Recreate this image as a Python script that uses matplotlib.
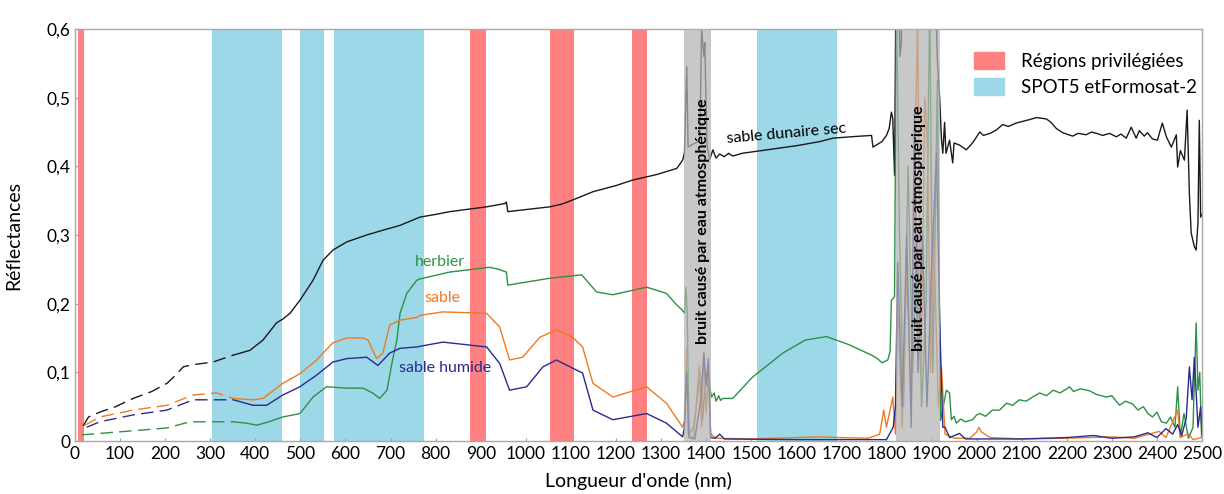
import numpy as np
import matplotlib
matplotlib.use('Agg')
from matplotlib import pyplot as plt
from matplotlib.patches import Patch
from matplotlib.ticker import FuncFormatter

plt.rcParams['font.family'] = ['Lato', 'DejaVu Sans']

# ---- data ----
wl_sec = [18, 30, 55, 90, 129, 170, 204, 225, 240, 260, 306, 351, 388, 417, 447, 462, 477,
          499, 528, 550, 572, 603, 647, 683, 721, 758, 765, 800, 831, 913, 955, 957, 960,
          1000, 1053, 1080, 1104, 1149, 1200, 1237, 1290, 1335, 1348, 1352, 1357, 1360,
          1370, 1380, 1386, 1390, 1395, 1397, 1402, 1408, 1415, 1422, 1430, 1440, 1450, 1459,
          1480, 1534, 1600, 1652, 1681, 1720, 1767, 1770, 1780, 1790, 1800, 1806, 1811,
          1814, 1818, 1822, 1826, 1830, 1833, 1836, 1850, 1870, 1890, 1905, 1913, 1918,
          1922, 1925, 1929, 1932, 1940, 1947, 1950, 1962, 1977, 1991, 2007, 2015, 2030,
          2044, 2058, 2070, 2088, 2100, 2117, 2133, 2155, 2165, 2177, 2191, 2213, 2225,
          2243, 2255, 2266, 2280, 2295, 2310, 2320, 2332, 2343, 2354, 2361, 2372, 2379,
          2390, 2401, 2412, 2421, 2432, 2443, 2446, 2452, 2461, 2467, 2472, 2476, 2483,
          2487, 2491, 2494, 2497, 2500]
r_sec = [0.022, 0.035, 0.042, 0.050, 0.062, 0.072, 0.084, 0.097, 0.108, 0.111, 0.115, 0.125,
         0.132, 0.147, 0.172, 0.178, 0.186, 0.205, 0.234, 0.263, 0.278, 0.290, 0.300, 0.307,
         0.314, 0.324, 0.326, 0.330, 0.334, 0.341, 0.346, 0.348, 0.334, 0.337, 0.341, 0.345,
         0.351, 0.363, 0.372, 0.380, 0.388, 0.397, 0.409, 0.420, 0.545, 0.428, 0.432, 0.435,
         0.440, 0.598, 0.560, 0.580, 0.430, 0.410, 0.424, 0.412, 0.418, 0.414, 0.419, 0.415,
         0.419, 0.424, 0.430, 0.436, 0.441, 0.443, 0.445, 0.428, 0.432, 0.436, 0.445, 0.455,
         0.479, 0.470, 0.387, 0.750, 0.700, 0.560, 0.580, 0.700, 0.800, 0.800, 0.800, 0.750,
         0.555, 0.500, 0.440, 0.419, 0.464, 0.419, 0.438, 0.405, 0.434, 0.431, 0.424, 0.434,
         0.450, 0.445, 0.448, 0.453, 0.461, 0.458, 0.463, 0.465, 0.468, 0.471, 0.469, 0.464,
         0.455, 0.449, 0.444, 0.448, 0.446, 0.450, 0.448, 0.445, 0.448, 0.443, 0.447, 0.441,
         0.457, 0.441, 0.452, 0.444, 0.449, 0.440, 0.438, 0.463, 0.443, 0.428, 0.446, 0.399,
         0.423, 0.409, 0.482, 0.360, 0.303, 0.283, 0.278, 0.317, 0.467, 0.326, 0.330]

wl_herb = [15, 55, 130, 204, 255, 351, 380, 403, 430, 461, 499, 528, 558, 603, 639, 660, 676,
           692, 705, 714, 721, 736, 758, 765, 831, 920, 940, 957, 960, 1053, 1124, 1157, 1193,
           1268, 1312, 1335, 1348, 1352, 1355, 1358, 1362, 1372, 1380, 1386, 1392, 1398, 1401,
           1408, 1412, 1418, 1422, 1428, 1432, 1437, 1459, 1503, 1570, 1620, 1667, 1718, 1767,
           1780, 1790, 1803, 1808, 1811, 1818, 1822, 1829, 1838, 1848, 1858, 1868, 1878, 1888,
           1896, 1903, 1913, 1920, 1933, 1940, 1944, 1950, 1955, 1965, 1975, 1991, 2000, 2007,
           2020, 2035, 2051, 2066, 2080, 2095, 2110, 2124, 2140, 2155, 2170, 2185, 2200, 2206,
           2215, 2230, 2251, 2265, 2288, 2300, 2317, 2330, 2346, 2358, 2370, 2380, 2390, 2400,
           2410, 2421, 2430, 2440, 2446, 2452, 2460, 2470, 2480, 2487, 2491, 2495, 2499]
r_herb = [0.009, 0.011, 0.015, 0.019, 0.028, 0.028, 0.026, 0.023, 0.028, 0.035, 0.040, 0.064,
          0.079, 0.077, 0.077, 0.070, 0.062, 0.074, 0.120, 0.147, 0.186, 0.215, 0.234, 0.236,
          0.246, 0.253, 0.250, 0.246, 0.227, 0.237, 0.242, 0.217, 0.213, 0.224, 0.215, 0.198,
          0.190, 0.186, 0.224, 0.190, 0.010, 0.020, 0.060, 0.100, 0.030, 0.080, 0.100, 0.079,
          0.064, 0.070, 0.058, 0.066, 0.059, 0.062, 0.062, 0.093, 0.128, 0.147, 0.152, 0.140,
          0.125, 0.120, 0.114, 0.118, 0.130, 0.205, 0.210, 0.650, 0.300, 0.050, 0.400, 0.100,
          0.300, 0.050, 0.200, 0.650, 0.100, 0.525, 0.030, 0.074, 0.070, 0.031, 0.036, 0.026,
          0.032, 0.028, 0.031, 0.038, 0.040, 0.036, 0.045, 0.045, 0.055, 0.052, 0.060, 0.058,
          0.064, 0.070, 0.066, 0.074, 0.070, 0.076, 0.079, 0.072, 0.076, 0.073, 0.068, 0.064,
          0.066, 0.052, 0.058, 0.054, 0.045, 0.050, 0.040, 0.035, 0.042, 0.028, 0.026, 0.035,
          0.020, 0.079, 0.006, 0.040, 0.004, 0.020, 0.172, 0.074, 0.100, 0.006]

wl_sable = [22, 55, 129, 204, 262, 315, 351, 395, 417, 461, 499, 536, 572, 603, 639, 650, 669,
            683, 698, 721, 758, 765, 816, 913, 942, 964, 993, 1031, 1068, 1104, 1126, 1149,
            1193, 1268, 1312, 1348, 1352, 1357, 1360, 1372, 1385, 1390, 1395, 1400, 1405, 1410,
            1423, 1500, 1600, 1650, 1700, 1760, 1785, 1794, 1800, 1814, 1820, 1825, 1835, 1845,
            1855, 1869, 1877, 1885, 1891, 1898, 1905, 1915, 1922, 1930, 1950, 1985, 2000, 2005,
            2011, 2030, 2100, 2200, 2300, 2350, 2405, 2420, 2446, 2452, 2470, 2480, 2500]
r_sable = [0.023, 0.035, 0.045, 0.052, 0.067, 0.070, 0.062, 0.060, 0.062, 0.084, 0.098, 0.118,
           0.143, 0.150, 0.150, 0.147, 0.120, 0.128, 0.169, 0.176, 0.180, 0.183, 0.188, 0.186,
           0.166, 0.118, 0.122, 0.151, 0.162, 0.151, 0.137, 0.084, 0.064, 0.079, 0.055, 0.020,
           0.030, 0.137, 0.010, 0.005, 0.110, 0.020, 0.130, 0.040, 0.100, 0.010, 0.004, 0.003,
           0.005, 0.006, 0.005, 0.004, 0.010, 0.045, 0.020, 0.064, 0.010, 0.200, 0.020, 0.250,
           0.050, 0.620, 0.100, 0.500, 0.430, 0.100, 0.300, 0.050, 0.108, 0.010, 0.004, 0.004,
           0.013, 0.020, 0.013, 0.005, 0.003, 0.004, 0.006, 0.004, 0.014, 0.005, 0.045, 0.005,
           0.011, 0.002, 0.005]

wl_hum = [26, 55, 129, 204, 262, 351, 395, 425, 461, 499, 536, 572, 603, 647, 672, 698, 721,
          758, 816, 913, 942, 964, 1002, 1038, 1068, 1104, 1126, 1149, 1193, 1268, 1312, 1348,
          1352, 1357, 1362, 1375, 1388, 1395, 1400, 1405, 1410, 1420, 1430, 1440, 1600, 1700,
          1800, 1815, 1820, 1825, 1835, 1845, 1855, 1862, 1870, 1880, 1890, 1900, 1911, 1918,
          1925, 1930, 1940, 1962, 1975, 2100, 2200, 2260, 2300, 2350, 2380, 2400, 2420, 2435,
          2446, 2455, 2465, 2472, 2478, 2483, 2491, 2497, 2500]
r_hum = [0.020, 0.028, 0.038, 0.045, 0.060, 0.060, 0.052, 0.052, 0.067, 0.079, 0.096, 0.115,
         0.120, 0.122, 0.110, 0.128, 0.135, 0.137, 0.144, 0.137, 0.113, 0.074, 0.079, 0.108,
         0.118, 0.106, 0.099, 0.045, 0.031, 0.040, 0.026, 0.006, 0.020, 0.100, 0.005, 0.003,
         0.060, 0.128, 0.080, 0.120, 0.005, 0.004, 0.010, 0.003, 0.002, 0.002, 0.002, 0.020,
         0.050, 0.260, 0.050, 0.300, 0.020, 0.477, 0.100, 0.300, 0.050, 0.250, 0.420, 0.176,
         0.020, 0.020, 0.005, 0.011, 0.003, 0.003, 0.005, 0.008, 0.004, 0.006, 0.012, 0.005,
         0.018, 0.010, 0.024, 0.008, 0.033, 0.108, 0.060, 0.122, 0.020, 0.050, 0.010]

red_bands = [(7, 20), (876, 912), (1053, 1106), (1235, 1268)]
blue_bands = [(305, 460), (500, 552), (575, 775), (1512, 1690)]
gray_bands = [(1350, 1410), (1822, 1918)]

DASH_END = 351

fig = plt.figure(figsize=(12.24, 4.94), dpi=100)
ax = fig.add_axes([75 / 1224, 1 - 441 / 494, 1127 / 1224, 412 / 494])

for a, b in red_bands:
    ax.axvspan(a, b, color='#ff8080', lw=0, zorder=1)
for a, b in blue_bands:
    ax.axvspan(a, b, color='#9cd8e8', lw=0, zorder=1)
for a, b in gray_bands:
    ax.axvspan(a, b, color='#b3b3b3', alpha=0.72, lw=0, zorder=3)


def draw(wl, r, col):
    wl = np.array(wl)
    r = np.array(r)
    m = wl <= DASH_END
    ax.plot(wl[m], r[m], color=col, lw=1.0, dashes=(9, 4.5), zorder=2)
    ax.plot(wl[wl >= DASH_END], r[wl >= DASH_END], color=col, lw=1.0, zorder=2)


draw(wl_sec, r_sec, '#1a1a1a')
draw(wl_herb, r_herb, '#2e9142')
draw(wl_sable, r_sable, '#f07a22')
draw(wl_hum, r_hum, '#2b2a8e')

ax.text(1392, 0.32, 'bruit causé par eau atmosphérique', rotation=90, ha='center',
        va='center', fontsize=11.5, fontweight='bold', zorder=4)
ax.text(1873, 0.31, 'bruit causé par eau atmosphérique', rotation=90, ha='center',
        va='center', fontsize=11.5, fontweight='bold', zorder=4)
ax.text(1579, 0.447, 'sable dunaire sec', rotation=5, ha='center', va='center',
        fontsize=11.5, zorder=4)
ax.text(809, 0.261, 'herbier', color='#2e9142', ha='center', va='center', fontsize=11.5)
ax.text(816, 0.208, 'sable', color='#f07a22', ha='center', va='center', fontsize=11.5)
ax.text(820, 0.106, 'sable humide', color='#2b2a8e', ha='center', va='center', fontsize=11.5)

ax.set_xlim(0, 2500)
ax.set_ylim(0, 0.6)
ax.set_xticks(np.arange(0, 2501, 100))
ax.set_yticks(np.arange(0, 0.61, 0.1))
ax.yaxis.set_major_formatter(FuncFormatter(lambda v, p: '0' if v == 0 else f'{v:.1f}'.replace('.', ',')))
ax.tick_params(labelsize=12.5, length=2.5, direction='in', color='#a0a0a0')
for s in ax.spines.values():
    s.set_color('#a8a8a8')
    s.set_linewidth(1.0)

ax.set_ylabel('Réflectances', fontsize=14)
ax.set_xlabel("Longueur d'onde (nm)", fontsize=14)
ax.yaxis.set_label_coords(-0.047, 0.5)
ax.xaxis.set_label_coords(0.5, -0.075)

handles = [Patch(color='#ff8080'), Patch(color='#9cd8e8')]
ax.legend(handles, ['Régions privilégiées', 'SPOT5 etFormosat-2'], loc='upper left',
          bbox_to_anchor=(0.783, 0.985), frameon=False, fontsize=13.5,
          handlelength=1.6, handleheight=1.0, labelspacing=0.45, handletextpad=0.9)

plt.savefig('out.png', dpi=100)
